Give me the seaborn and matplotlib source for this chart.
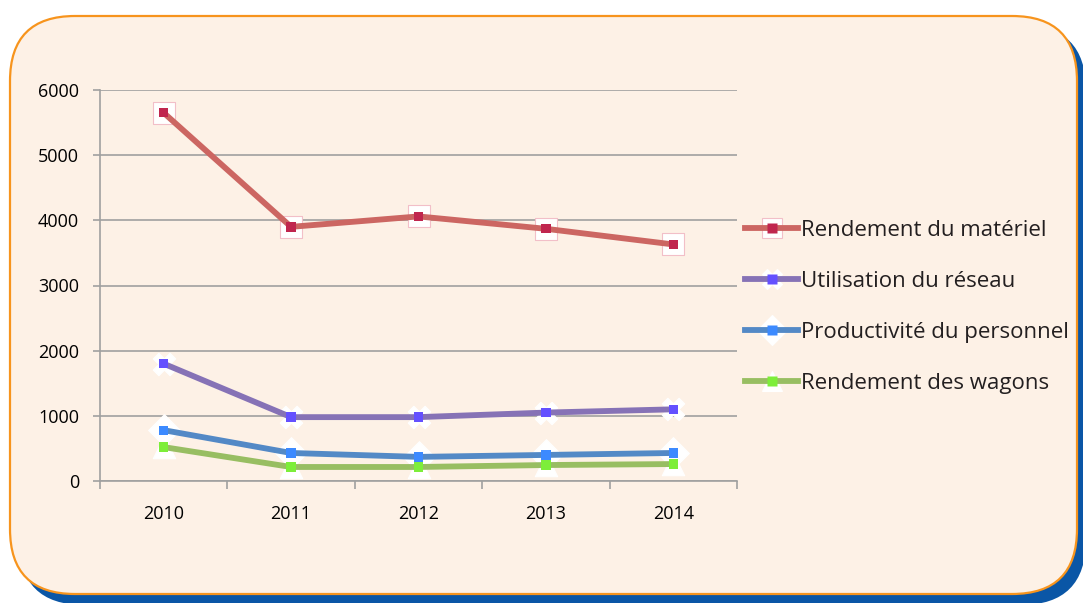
import pandas as pd
import matplotlib
matplotlib.use("Agg")
import matplotlib.pyplot as plt
import seaborn as sns
from matplotlib.patches import FancyBboxPatch
from matplotlib.lines import Line2D
from matplotlib.transforms import IdentityTransform

annees = ["2010", "2011", "2012", "2013", "2014"]
materiel = [5650, 3900, 4060, 3870, 3630]
reseau = [1800, 980, 980, 1050, 1100]
personnel = [780, 430, 370, 400, 430]
wagons = [520, 215, 215, 245, 260]
series = ["Rendement du matériel", "Utilisation du réseau",
          "Productivité du personnel", "Rendement des wagons"]
y_ticks = [0, 1000, 2000, 3000, 4000, 5000, 6000]

couleurs_ligne = ["#CC6662", "#8672B6", "#5389C6", "#98BE62"]
couleurs_point = ["#C0264E", "#6450FF", "#3C8AFF", "#7DEE3A"]
bords = ["#F2BFC8", "#FFFFFF", "#FFFFFF", "#FFFFFF"]
formes = ["s", "X", "D", "^"]

df = pd.DataFrame({
    "annee": annees * 4,
    "serie": [s for s in series for _ in annees],
    "valeur": materiel + reseau + personnel + wagons,
})

plt.rcParams["font.family"] = ["Open Sans", "DejaVu Sans"]
plt.rcParams["text.color"] = "#231F20"
fig = plt.figure(figsize=(10.83, 6.03), dpi=100)
fig.patch.set_facecolor("white")

# fond arrondi + ombre bleue
ombre = FancyBboxPatch((19, -2), 1067, 580, boxstyle="round,pad=0,rounding_size=65",
                       transform=IdentityTransform(), fc="#0A56A6", ec="none", zorder=-3)
cadre = FancyBboxPatch((10, 9), 1067, 578, boxstyle="round,pad=0,rounding_size=65",
                       transform=IdentityTransform(), fc="#FDF1E6", ec="#F7941D", lw=1.6, zorder=-2)
fig.patches.extend([ombre, cadre])

ax = fig.add_axes([100 / 1083, 1 - 481 / 603, 637 / 1083, 391 / 603])
ax.set_facecolor("none")

pal_ligne = dict(zip(series, couleurs_ligne))
pal_point = dict(zip(series, couleurs_point))

# marqueurs blancs sous les lignes
for i, s in enumerate(series):
    sns.scatterplot(data=df[df["serie"] == s], x="annee", y="valeur", marker=formes[i],
                    color="white", s=260, edgecolor=bords[i], linewidth=0.8,
                    legend=False, ax=ax, zorder=3)
sns.lineplot(data=df, x="annee", y="valeur", hue="serie", palette=pal_ligne,
             linewidth=4.2, legend=False, ax=ax, zorder=4)
sns.scatterplot(data=df, x="annee", y="valeur", hue="serie", palette=pal_point,
                marker="s", s=45, linewidth=0, legend=False, ax=ax, zorder=5)

ax.set_xlim(-0.5, 4.5)
ax.set_ylim(0, 6000)
ax.set_yticks(y_ticks)
ax.set_xlabel("")
ax.set_ylabel("")
ax.yaxis.grid(True, color="#A0A0A0", lw=1.2)
ax.set_axisbelow(True)
for s in ["top", "right"]:
    ax.spines[s].set_visible(False)
for s in ["left", "bottom"]:
    ax.spines[s].set_color("#A0A0A0")
    ax.spines[s].set_linewidth(1.2)
ax.set_xticks([i - 0.5 for i in range(6)], minor=True)
ax.tick_params(axis="x", which="major", length=0, pad=17, labelsize=13)
ax.tick_params(axis="x", which="minor", length=6, color="#A0A0A0", width=1.2)
ax.tick_params(axis="y", length=5, color="#A0A0A0", width=1.2, pad=10, labelsize=13)

handles = []
for i, s in enumerate(series):
    l = Line2D([], [], color=couleurs_ligne[i], lw=4.2)
    m = Line2D([], [], ls="none", marker=formes[i], ms=15, mfc="white", mec=bords[i], mew=0.8)
    p = Line2D([], [], ls="none", marker="s", ms=7, mfc=couleurs_point[i], mec="none")
    handles.append((m, l, p))
fig.legend(handles, series, loc="upper left", bbox_to_anchor=(745 / 1083, 1 - 220 / 603),
           frameon=False, fontsize=16, handlelength=2.4, handletextpad=0.1,
           labelspacing=1.35, borderpad=0, borderaxespad=0)

fig.savefig("out.png", dpi=100)
